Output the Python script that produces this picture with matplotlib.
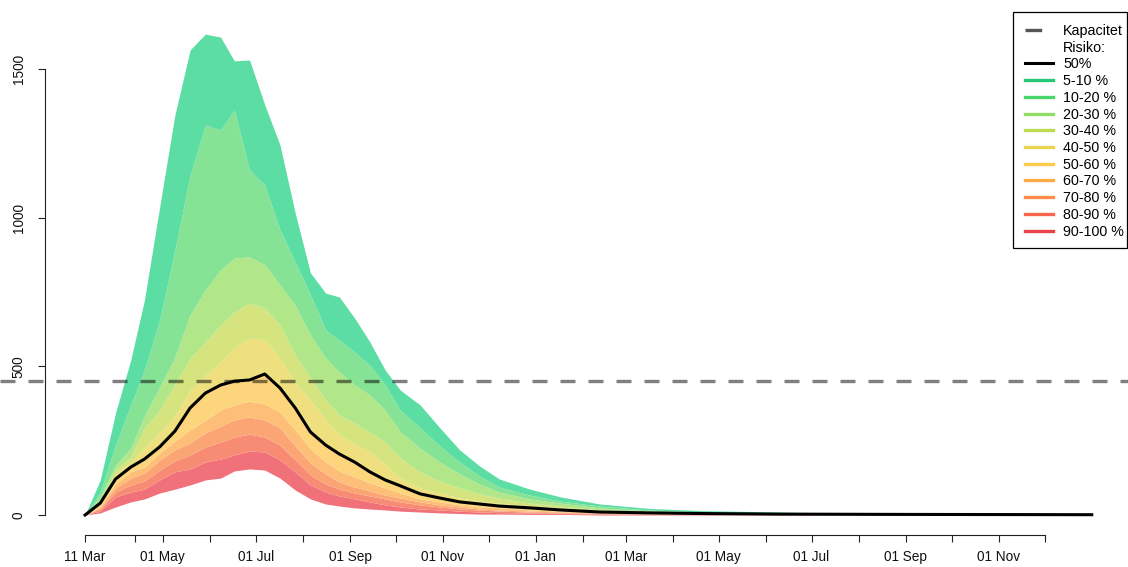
import matplotlib
matplotlib.use('Agg')
import matplotlib.pyplot as plt
import matplotlib.dates as mdates
from matplotlib.lines import Line2D
from matplotlib.patches import Rectangle
import numpy as np

plt.rcParams['font.family'] = ['Liberation Sans', 'DejaVu Sans']

# ---------------- data ----------------
start_date = '2020-03-11'
days = [0, 10, 20, 30, 39, 49, 59, 69, 79, 89, 98, 108, 118, 128, 138, 148, 158, 167,
        177, 187, 197, 207, 220, 233, 246, 259, 272, 292, 312, 338, 371, 404, 456, 535, 661]

q_top = [0, 118, 343, 521, 723, 1036, 1345, 1564, 1617, 1607, 1527, 1530, 1379, 1244, 1015, 814, 746, 733,
         662, 582, 488, 420, 370, 293, 219, 165, 121, 87, 61, 37, 22, 15, 10, 0, 0]
q90 = [0, 77, 235, 370, 488, 656, 891, 1143, 1311, 1295, 1362, 1160, 1110, 958, 851, 740, 622, 588,
       548, 504, 437, 353, 293, 232, 178, 131, 94, 67, 47, 30, 17, 10, 7, 0, 0]
q80 = [0, 61, 168, 225, 333, 430, 531, 673, 757, 824, 864, 868, 841, 773, 706, 605, 528, 481,
       437, 403, 353, 279, 225, 178, 138, 104, 77, 54, 40, 24, 13, 8, 5, 0, 0]
q70 = [0, 50, 151, 195, 293, 353, 440, 528, 582, 639, 683, 713, 696, 639, 538, 461, 387, 336,
       309, 279, 245, 192, 145, 114, 91, 71, 57, 40, 30, 17, 10, 7, 3, 0, 0]
q60 = [0, 44, 138, 178, 225, 276, 333, 420, 471, 514, 562, 595, 588, 528, 444, 387, 319, 269,
       239, 212, 171, 124, 91, 74, 57, 47, 40, 30, 24, 13, 8, 7, 3, 0, 0]
q50 = [0, 40, 121, 161, 188, 229, 282, 360, 410, 437, 450, 454, 474, 427, 360, 279, 235, 205,
       178, 145, 118, 98, 71, 57, 44, 37, 30, 24, 17, 10, 7, 5, 3, 2, 1]
q40 = [0, 30, 104, 145, 161, 208, 249, 286, 319, 353, 370, 383, 373, 346, 286, 222, 178, 148,
       128, 108, 91, 74, 54, 44, 34, 27, 24, 17, 13, 8, 5, 3, 2, 0, 0]
q30 = [0, 24, 91, 124, 141, 185, 219, 242, 276, 299, 319, 330, 319, 293, 232, 175, 138, 111,
       94, 81, 67, 57, 44, 34, 27, 20, 17, 13, 10, 7, 3, 3, 2, 0, 0]
q20 = [0, 20, 77, 101, 114, 151, 182, 202, 229, 245, 262, 272, 262, 235, 185, 134, 104, 87,
       74, 64, 54, 44, 34, 27, 20, 17, 13, 10, 7, 5, 3, 2, 2, 0, 0]
q10 = [0, 13, 61, 77, 87, 118, 145, 155, 178, 188, 202, 215, 212, 185, 145, 101, 77, 64,
       54, 44, 34, 27, 20, 17, 13, 10, 8, 7, 5, 3, 2, 2, 0, 0, 0]
q_low = [0, 7, 27, 44, 54, 74, 87, 101, 118, 124, 148, 155, 151, 124, 84, 54, 37, 30,
         24, 20, 17, 13, 10, 7, 5, 3, 3, 2, 2, 0, 0, 0, 0, 0, 0]

capacity = 450

band_labels = ['90-100 %', '80-90 %', '70-80 %', '60-70 %', '50-60 %',
               '40-50 %', '30-40 %', '20-30 %', '10-20 %', '5-10 %']
fill_colors = ['#F07179', '#F78B74', '#FBA574', '#FDBE77', '#FCD57C',
               '#EEDF7F', '#D6E480', '#B1E689', '#86E396', '#5BDDA3']
legend_colors = ['#E8434C', '#F7654B', '#FF8C4A', '#FFAA44', '#FECA4C',
                 '#E8D44E', '#BFDB52', '#8EDC65', '#48D66B', '#26C878']

tick_days = [0, 33, 51, 82, 112, 143, 174, 204, 235, 265, 296, 327, 355, 386, 416,
             447, 477, 508, 539, 569, 600, 630]
tick_labels = ['11 Mar', '', '01 May', '', '01 Jul', '', '01 Sep', '', '01 Nov', '', '01 Jan',
               '', '01 Mar', '', '01 May', '', '01 Jul', '', '01 Sep', '', '01 Nov', '']
y_ticks = [0, 500, 1000, 1500]

# ---------------- figure ----------------
W, H = 1128, 567
fig = plt.figure(figsize=(W / 100, H / 100), dpi=100)
ax = fig.add_axes([45 / W, (H - 535) / H, (W - 45) / W, (535 - 14) / H])

t0 = np.datetime64(start_date)
dates = t0 + np.array(days).astype('timedelta64[D]')
x0 = mdates.date2num(t0)

curves = [q_low, q10, q20, q30, q40, q50, q60, q70, q80, q90, q_top]
for i in range(10):
    ax.fill_between(dates, curves[i], curves[i + 1], color=fill_colors[i], lw=0, zorder=1)

ax.axhline(capacity, xmin=-45 / (W - 45), xmax=1.0, color=(0, 0, 0, 0.5), lw=2.4,
           linestyle=(0, (4.5, 3.9)), clip_on=False, zorder=2)
ax.plot(dates, q50, color='black', lw=2.2, zorder=3, solid_joinstyle='round')

ax.set_xlim(x0 - 26.3, x0 + 684.8)
ax.set_ylim(-67.25, 1684.6)

for s in ['top', 'right']:
    ax.spines[s].set_visible(False)
ax.spines['left'].set_bounds(0, 1500)
ax.spines['bottom'].set_bounds(x0, x0 + tick_days[-1])
for s in ['left', 'bottom']:
    ax.spines[s].set_linewidth(0.8)
    ax.spines[s].set_color('#222222')

ax.set_xticks([x0 + d for d in tick_days])
ax.set_xticklabels(tick_labels)
ax.set_yticks(y_ticks)
ax.set_yticklabels([str(v) for v in y_ticks], rotation=90, va='center')
ax.tick_params(axis='both', length=5, width=0.8, color='#222222', labelsize=9.8,
               labelcolor='#111111')
ax.tick_params(axis='x', pad=6)
ax.tick_params(axis='y', pad=9)

# ---------------- legend ----------------
handles = [Line2D([], [], color='#555555', lw=2.4, linestyle=(0, (5, 10))),
           Line2D([], [], color='none'),
           Line2D([], [], color='black', lw=2.2)]
labels = ['Kapacitet', 'Risiko:', '50%']
for lab, col in zip(band_labels[::-1], legend_colors[::-1]):
    handles.append(Line2D([], [], color=col, lw=2.4))
    labels.append(lab)

leg = fig.legend(handles, labels, loc='upper left', bbox_to_anchor=(1025 / W, 1 - 24 / H),
                 fontsize=10.3, frameon=False, handlelength=1.96, handletextpad=0.7,
                 labelspacing=0.19, borderpad=0, borderaxespad=0)
fig.patches.append(Rectangle((1013 / W, 1 - 248 / H), 114 / W, 236 / H,
                             transform=fig.transFigure, fill=False, ec='black', lw=0.9))

fig.savefig('out.png', dpi=100)
